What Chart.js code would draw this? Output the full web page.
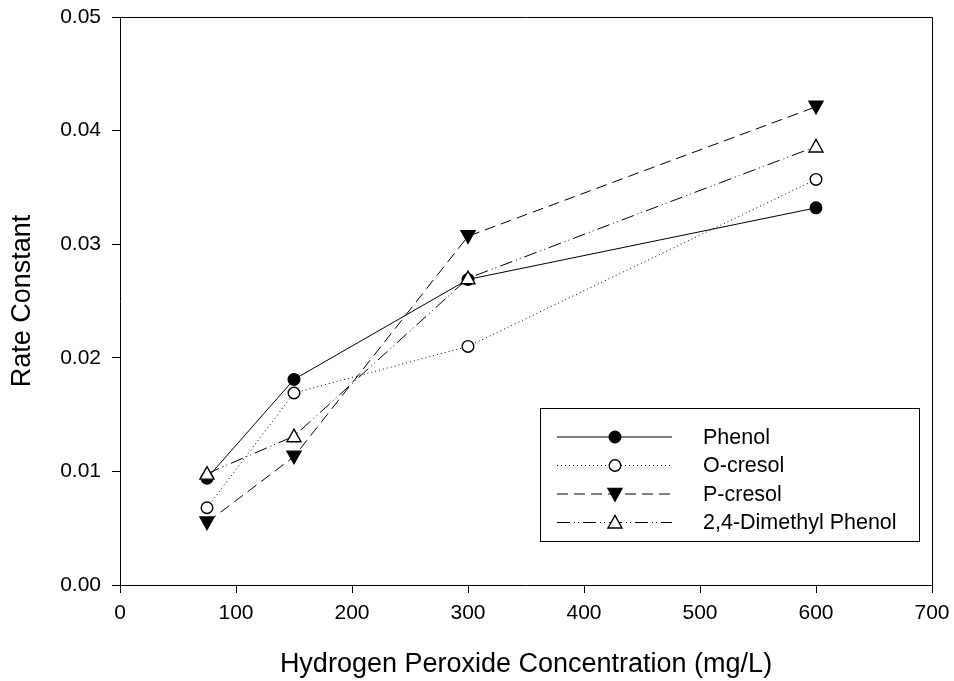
<!DOCTYPE html>
<html>
<head>
<meta charset="utf-8">
<script src="https://cdn.jsdelivr.net/npm/chart.js@4.4.1/dist/chart.umd.min.js"></script>
<style>
  html, body { margin: 0; padding: 0; background: #fff; }
  #wrap { width: 954px; height: 681px; }
</style>
</head>
<body>
<div id="wrap"><canvas id="c" width="954" height="681"></canvas></div>
<script>
// concentrations (mg/L)
const concentrations = [75, 150, 300, 600];
const seriesNames = ['Phenol', 'O-cresol', 'P-cresol', '2,4-Dimethyl Phenol'];
const phenol = [0.0094, 0.0181, 0.0269, 0.0332];
const oCresol = [0.0068, 0.0169, 0.0210, 0.0357];
const pCresol = [0.0055, 0.0113, 0.0307, 0.0421];
const dimethylPhenol = [0.0098, 0.0131, 0.0270, 0.0386];
const xTicks = [0, 100, 200, 300, 400, 500, 600, 700];
const yTicks = [0, 0.01, 0.02, 0.03, 0.04, 0.05];

const FONT = "'Liberation Sans', Arial, sans-serif";

function pts(vals) {
  return concentrations.map((x, i) => ({ x: x, y: vals[i] }));
}

const styles = [
  { dash: [], marker: 'circle', fill: true },
  { dash: [1, 3], marker: 'circle', fill: false },
  { dash: [11, 6], marker: 'tri-down', fill: true },
  { dash: [13, 4, 1, 3, 1, 4], marker: 'tri-up', fill: false },
];

function drawMarker(ctx, kind, filled, x, y) {
  ctx.save();
  ctx.setLineDash([]);
  ctx.lineWidth = 1.4;
  ctx.strokeStyle = '#000';
  ctx.fillStyle = filled ? '#000' : '#fff';
  ctx.beginPath();
  if (kind === 'circle') {
    ctx.arc(x, y, 5.8, 0, Math.PI * 2);
  } else if (kind === 'tri-down') {
    ctx.moveTo(x - 7, y - 5.5);
    ctx.lineTo(x + 7, y - 5.5);
    ctx.lineTo(x, y + 7);
    ctx.closePath();
  } else {
    ctx.moveTo(x - 7, y + 5.5);
    ctx.lineTo(x + 7, y + 5.5);
    ctx.lineTo(x, y - 7);
    ctx.closePath();
  }
  ctx.fill();
  ctx.stroke();
  ctx.restore();
}

const markerPlugin = {
  id: 'markers',
  afterDatasetsDraw(chart) {
    const ctx = chart.ctx;
    const xs = chart.scales.x, ys = chart.scales.y;
    chart.data.datasets.forEach((ds, i) => {
      ds.data.forEach(p => {
        drawMarker(ctx, styles[i].marker, styles[i].fill, xs.getPixelForValue(p.x), ys.getPixelForValue(p.y));
      });
    });
  },
  afterDraw(chart) {
    const ctx = chart.ctx;
    const a = chart.chartArea;
    ctx.save();
    // frame on top and right
    ctx.strokeStyle = '#000';
    ctx.lineWidth = 1;
    ctx.beginPath();
    ctx.moveTo(a.left, a.top + 0.5);
    ctx.lineTo(a.right + 0.5, a.top + 0.5);
    ctx.lineTo(a.right + 0.5, a.bottom);
    ctx.stroke();
    // legend box
    const bx = 540, by = 408, bw = 379, bh = 133;
    ctx.fillStyle = '#fff';
    ctx.fillRect(bx, by, bw, bh);
    ctx.strokeRect(bx + 0.5, by + 0.5, bw, bh);
    ctx.font = '21.5px ' + FONT;
    ctx.textBaseline = 'middle';
    chart.data.datasets.forEach((ds, i) => {
      const y = 437 + i * 28.5;
      ctx.save();
      ctx.setLineDash(styles[i].dash);
      ctx.lineWidth = 1;
      ctx.beginPath();
      ctx.moveTo(557, y);
      ctx.lineTo(672, y);
      ctx.stroke();
      ctx.restore();
      drawMarker(ctx, styles[i].marker, styles[i].fill, 615, y);
      ctx.fillStyle = '#000';
      ctx.fillText(ds.label, 703, y + 1);
    });
    ctx.restore();
  }
};

const datasets = [phenol, oCresol, pCresol, dimethylPhenol].map((vals, i) => ({
  label: seriesNames[i],
  data: pts(vals),
  borderColor: '#000',
  borderWidth: 1,
  borderDash: styles[i].dash,
  pointRadius: 0,
  fill: false,
  tension: 0,
}));

new Chart(document.getElementById('c').getContext('2d'), {
  type: 'line',
  data: { datasets: datasets },
  plugins: [markerPlugin],
  options: {
    responsive: false,
    animation: false,
    layout: { padding: { top: 17, right: 22, left: 0, bottom: 0 } },
    plugins: { legend: { display: false }, tooltip: { enabled: false } },
    scales: {
      x: {
        type: 'linear',
        min: 0, max: 700,
        afterBuildTicks: s => { s.ticks = xTicks.map(v => ({ value: v })); },
        afterFit: s => { s.height = 96; s.paddingLeft = 0; s.paddingRight = 0; },
        grid: { drawOnChartArea: false, drawTicks: true, tickLength: 8, color: '#000' },
        border: { display: true, color: '#000', width: 1 },
        ticks: { color: '#000', font: { family: FONT, size: 21 }, padding: 8, maxRotation: 0 },
        title: { display: true, text: 'Hydrogen Peroxide Concentration (mg/L)', color: '#000',
                 font: { family: FONT, size: 27 }, padding: { top: 0, bottom: 0 } }
      },
      y: {
        type: 'linear',
        min: 0, max: 0.05,
        afterBuildTicks: s => { s.ticks = yTicks.map(v => ({ value: v })); },
        afterFit: s => { s.width = 120; s.paddingTop = 0; s.paddingBottom = 0; },
        grid: { drawOnChartArea: false, drawTicks: true, tickLength: 8, color: '#000' },
        border: { display: true, color: '#000', width: 1 },
        ticks: { color: '#000', font: { family: FONT, size: 21 }, padding: 11,
                 callback: v => v.toFixed(2) },
        title: { display: true, text: 'Rate Constant', color: '#000',
                 font: { family: FONT, size: 27 }, padding: { bottom: 0, top: 6 } }
      }
    }
  }
});
</script>
</body>
</html>
